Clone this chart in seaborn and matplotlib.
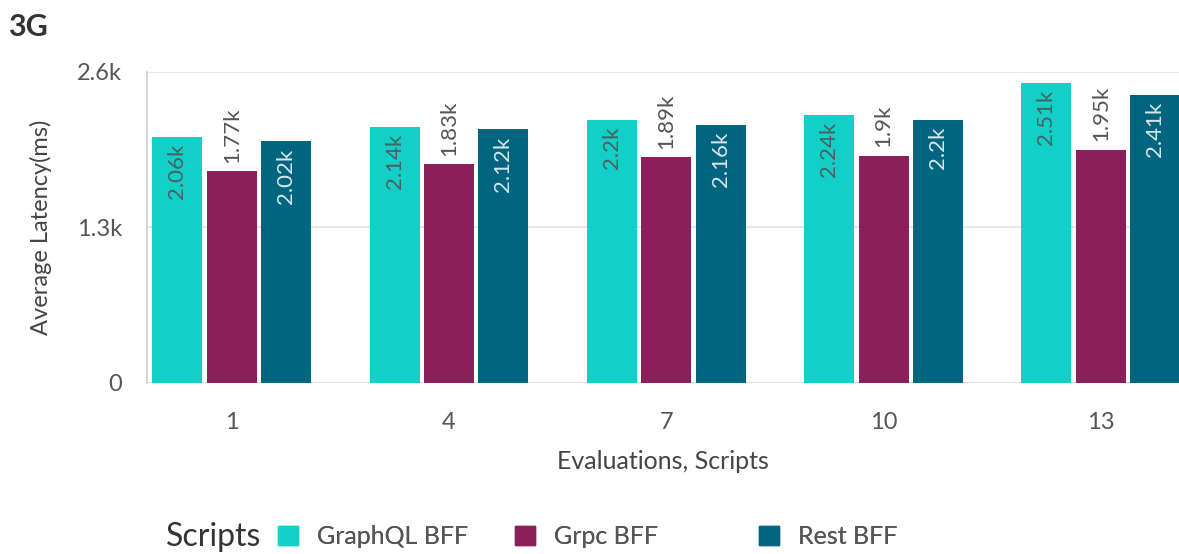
import pandas as pd
import matplotlib
matplotlib.use("Agg")
import matplotlib.pyplot as plt
import seaborn as sns

# Data (latency in ms)
evaluations = ["1", "4", "7", "10", "13"]
graphql_bff = [2060, 2140, 2200, 2240, 2510]
grpc_bff = [1770, 1830, 1890, 1900, 1950]
rest_bff = [2020, 2120, 2160, 2200, 2410]
scripts = ["GraphQL BFF", "Grpc BFF", "Rest BFF"]
colors = ["#12D0C8", "#8A1F5B", "#006680"]
y_ticks = [0, 1300, 2600]
y_tick_labels = ["0", "1.3k", "2.6k"]

rows = []
for name, vals in zip(scripts, [graphql_bff, grpc_bff, rest_bff]):
    for ev, v in zip(evaluations, vals):
        rows.append({"Evaluations": ev, "Scripts": name, "Latency": v})
df = pd.DataFrame(rows)

sns.set_style("white")
plt.rcParams["font.family"] = ["Lato", "DejaVu Sans"]

fig = plt.figure(figsize=(11.79, 5.54), dpi=100)
ax = fig.add_axes([0.1247, 0.3087, 0.8753, 0.5614])

sns.barplot(data=df, x="Evaluations", y="Latency", hue="Scripts",
            order=evaluations, hue_order=scripts, palette=colors,
            saturation=1, width=0.75, gap=0.08, linewidth=0, ax=ax,
            legend=False)

ax.set_ylim(0, 2600)
ax.set_xlim(-0.39, 4.36)
ax.set_yticks(y_ticks)
ax.set_yticklabels(y_tick_labels)
ax.yaxis.grid(True, color="#e3e3e3", linewidth=1.2)
ax.set_axisbelow(True)
for s in ["top", "right", "bottom"]:
    ax.spines[s].set_visible(False)
ax.spines["left"].set_color("#d0d0d0")
ax.spines["left"].set_linewidth(1.2)
ax.axhline(0, color="#cfcfcf", linewidth=2.2, zorder=0.5)
ax.tick_params(axis="y", length=12, color="#d0d0d0", width=1.2,
               labelsize=17, labelcolor="#555555", pad=6)
ax.tick_params(axis="x", length=0, labelsize=17, labelcolor="#555555", pad=21)
ax.set_xlabel("Evaluations, Scripts", fontsize=18, color="#444444", labelpad=12)
ax.set_ylabel("Average Latency(ms)", fontsize=17, color="#444444", labelpad=18)

# value labels on bars
label_style = {
    "GraphQL BFF": dict(inside=True, color="#4d5f5f"),
    "Grpc BFF": dict(inside=False, color="#555555"),
    "Rest BFF": dict(inside=True, color="#d9e6ea"),
}
for name, cont in zip(scripts, ax.containers):
    st = label_style[name]
    for bar in cont:
        h = bar.get_height()
        x = bar.get_x() + bar.get_width() / 2
        txt = f"{h / 1000:g}k"
        if st["inside"]:
            ax.annotate(txt, (x, h), xytext=(0, -5), textcoords="offset points",
                        rotation=90, ha="center", va="top", fontsize=16,
                        color=st["color"])
        else:
            ax.annotate(txt, (x, h), xytext=(0, 6), textcoords="offset points",
                        rotation=90, ha="center", va="bottom", fontsize=16,
                        color=st["color"])

fig.text(0.007, 0.951, "3G", fontsize=22, fontweight="bold", color="#333333",
         ha="left", va="center")

# legend
fig.text(0.141, 0.031, "Scripts", fontsize=23, color="#333333",
         ha="left", va="center")
legend_x = [0.236, 0.437, 0.644]
for name, c, lx in zip(scripts, colors, legend_x):
    h = plt.Rectangle((0, 0), 1, 1, color=c)
    leg = fig.legend([h], [name], loc="center left", bbox_to_anchor=(lx, 0.031),
                     frameon=False, fontsize=18, handlelength=0.8,
                     handleheight=0.8, handletextpad=0.75, borderpad=0,
                     borderaxespad=0, labelcolor="#555555")
    fig.add_artist(leg)

fig.savefig("out.png", dpi=100)
